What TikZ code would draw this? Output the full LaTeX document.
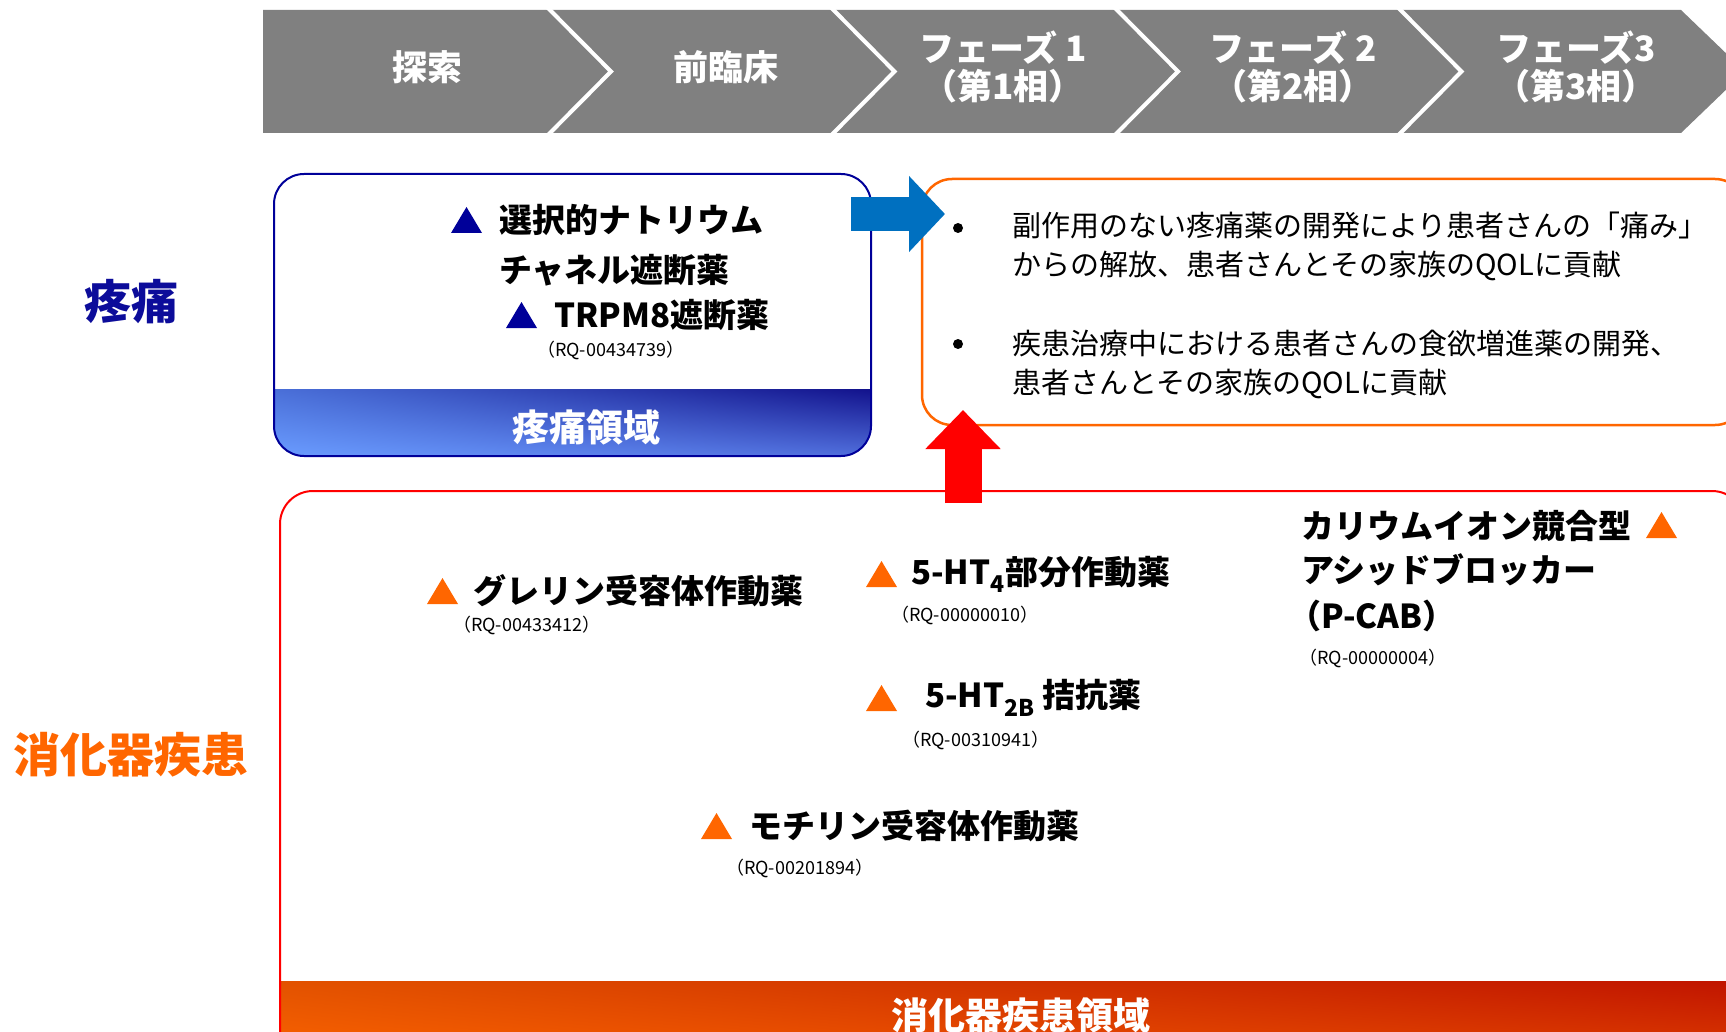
\documentclass[tikz,border=0pt]{standalone}
\usepackage{fontspec}
\setmainfont{Noto Sans CJK JP}
\usepackage{xcolor}
\usetikzlibrary{arrows.meta, positioning, shadings}
\definecolor{phasegray}{HTML}{808080}
\definecolor{painblue}{HTML}{000099}
\definecolor{painnavy}{HTML}{0C0C9A}
\definecolor{gutorange}{HTML}{FF6600}
\definecolor{arrowblue}{HTML}{0070C0}
\definecolor{painUL}{HTML}{4A6FD8}
\definecolor{painUR}{HTML}{12128C}
\definecolor{painLL}{HTML}{6A9CFF}
\definecolor{painLR}{HTML}{506EDC}
\definecolor{gutUL}{HTML}{E25200}
\definecolor{gutUR}{HTML}{C01400}
\definecolor{gutLL}{HTML}{FF6600}
\definecolor{gutLR}{HTML}{E04000}
\tikzset{
	phase/.style = {text = white, align = center, inner sep = 0, font = \fontsize{35}{38}\selectfont\bfseries},
	side/.style = {inner sep = 0, font = \fontsize{47}{50}\selectfont\bfseries},
	band/.style = {text = white, inner sep = 0, font = \fontsize{37}{40}\selectfont\bfseries},
	drug/.style = {anchor = west, inner sep = 0, font = \fontsize{33}{36}\selectfont\bfseries},
	code/.style = {anchor = west, inner sep = 0, font = \fontsize{18}{20}\selectfont},
	goal/.style = {anchor = west, align = left, inner sep = 0, font = \fontsize{29}{39}\selectfont},
	bluearrow/.style = {arrowblue, line width = 34pt, -{Triangle[length = 36pt, width = 74pt]}},
	redarrow/.style = {red, line width = 37pt, -{Triangle[length = 39pt, width = 73pt]}}
}
\newcommand{\drugtri}[2]{\fill [#1] (#2) ++(-15.5, 13) -- ++(31, 0) -- ++(-15.5, -26) -- cycle;}

\begin{document}
\begin{tikzpicture}[x = 1pt, y = -1pt]
	\useasboundingbox (0, 0) rectangle (1726, 1032);

	\fill [phasegray] (263, 10) -- (1681, 10) -- (1745, 71.5) -- (1681, 133) -- (263, 133) -- cycle;
	\foreach \b in {547, 830.5, 1114, 1397.5}
		\draw [white, line width = 4pt] (\b, 7) -- (\b + 64, 71.5) -- (\b, 136);
	\foreach \x/\t [count = \i] in {427/探索, 726/前臨床, 1003/{フェーズ 1\\（第1相）}, 1293/{フェーズ 2\\（第2相）}, 1576/{フェーズ3\\（第3相）}}
		\node [phase] (phase\i) at (\x, 67) {\t};

	\node [side, painnavy] (pain) at (131, 302) {疼痛};
	\node [side, gutorange] (gut) at (131, 755) {消化器疾患};

	\begin{scope}
		\clip [rounded corners = 30pt] (274, 174) rectangle (871, 456);
		\shade [upper left = painUL, upper right = painUR, lower left = painLL, lower right = painLR] (274, 389) rectangle (871, 456);
	\end{scope}
	\draw [painblue, line width = 2pt, rounded corners = 30pt] (274, 174) rectangle (871, 456);
	\node [band] (painband) at (586, 427) {疼痛領域};

	\drugtri{painblue}{466.5, 220}
	\node [drug] (sodium) at (499, 220) {選択的ナトリウム};
	\node [drug] (channel) at (499, 270) {チャネル遮断薬};
	\drugtri{painblue}{521.5, 315}
	\node [drug] (trpm) at (554, 315) {TRPM8遮断薬};
	\node [code] (trpmcode) at (537, 350) {（RQ-00434739）};

	\draw [gutorange, line width = 2.5pt, rounded corners = 30pt] (922, 179) rectangle (1745, 425);
	\fill (958, 228) circle (5pt);
	\node [goal] (goalpain) at (1012, 246.5) {副作用のない疼痛薬の開発により患者さんの「痛み」\\からの解放、患者さんとその家族のQOLに貢献};
	\fill (958, 344) circle (5pt);
	\node [goal] (goalgut) at (1012, 364) {疾患治療中における患者さんの食欲増進薬の開発、\\患者さんとその家族のQOLに貢献};

	\begin{scope}
		\clip [rounded corners = 33pt] (280, 491) rectangle (1745, 1070);
		\shade [upper left = gutUL, upper right = gutUR, lower left = gutLL, lower right = gutLR] (280, 981) rectangle (1745, 1070);
	\end{scope}
	\draw [red, line width = 2pt, rounded corners = 33pt] (280, 491) rectangle (1745, 1070);
	\node [band] (gutband) at (1021, 1015) {消化器疾患領域};

	\drugtri{gutorange}{442.5, 591}
	\node [drug] (ghrelin) at (473, 591) {グレリン受容体作動薬};
	\node [code] (ghrelincode) at (453, 625) {（RQ-00433412）};
	\drugtri{gutorange}{881.5, 574}
	\node [drug] (htfour) at (911, 574) {5-HT\textsubscript{4}部分作動薬};
	\node [code] (htfourcode) at (891, 615) {（RQ-00000010）};
	\drugtri{gutorange}{881.5, 698}
	\node [drug] (httwob) at (925, 698) {5-HT\textsubscript{2B} 拮抗薬};
	\node [code] (httwobcode) at (902, 740) {（RQ-00310941）};
	\drugtri{gutorange}{716.5, 826}
	\node [drug] (motilin) at (749, 826) {モチリン受容体作動薬};
	\node [code] (motilincode) at (726, 868) {（RQ-00201894）};
	\node [drug] (potassium) at (1301, 526) {カリウムイオン競合型};
	\drugtri{gutorange}{1661.5, 525}
	\node [drug] (acid) at (1301, 570) {アシッドブロッカー};
	\node [drug] (pcab) at (1288, 616) {（P-CAB）};
	\node [code] (pcabcode) at (1299, 658) {（RQ-00000004）};

	\coordinate (bluefrom) at (851, 214);
	\coordinate (blueto) at (945, 214);
	\draw [bluearrow] (bluefrom) -- (blueto);
	\coordinate (redfrom) at (963, 503);
	\coordinate (redto) at (963, 410);
	\draw [redarrow] (redfrom) -- (redto);
\end{tikzpicture}
\end{document}
